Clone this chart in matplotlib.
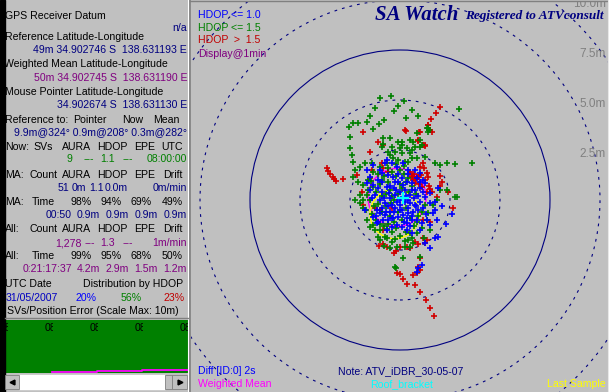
import numpy as np
import matplotlib.pyplot as plt
from matplotlib.patches import Circle, Rectangle
from matplotlib.transforms import Bbox, TransformedBbox

plt.rcParams['font.family'] = ['Liberation Sans', 'DejaVu Sans']

BG = '#c0c0c0'
NAVY = '#000080'
PURPLE = '#800080'
GREEN = '#008000'
BLUE = '#0000ff'
RED = '#d00000'

# ---------------- data ----------------
ring_radii_m = [2.5, 5.0, 7.5, 10.0, 12.5]
ring_labels = ['2.5m', '5.0m', '7.5m', '10.0m', '']

# position fixes (east, north) in metres from the reference point
hdop_good = [(-0.75, 1.83), (-0.42, 1.83), (-0.17, 1.67), (0.17, 1.83), (0.42, 1.5), (0.75, 1.5),
             (1.0, 1.33), (0.83, 1.08), (0.58, 0.83), (0.33, 0.92), (0.08, 1.08), (-0.08, 0.92),
             (-0.33, 1.17), (-0.58, 1.25), (-0.92, 1.33), (-1.08, 1.0), (-1.33, 0.75), (-1.5, 0.5),
             (-1.25, 0.25), (-1.0, 0.0), (-0.75, -0.17), (-0.5, 0.08), (-0.25, 0.25), (0.0, 0.42),
             (0.25, 0.5), (0.5, 0.25), (0.75, 0.5), (1.0, 0.58), (1.17, 0.42), (1.25, 0.17),
             (1.0, -0.08), (0.75, -0.25), (0.5, -0.17), (0.25, -0.08), (0.0, -0.25), (-0.25, -0.42),
             (-0.5, -0.58), (-0.75, -0.75), (-1.0, -0.67), (-1.17, -0.5), (-1.33, -0.83), (-1.08, -1.08),
             (-0.83, -1.0), (-0.58, -1.0), (-0.33, -0.92), (-0.08, -0.83), (0.17, -0.75), (0.42, -0.67),
             (0.67, -0.58), (0.92, -0.5), (1.17, -0.42), (1.5, -0.17), (1.75, -0.5), (1.67, -0.67),
             (1.33, -1.0), (1.08, -1.17), (0.83, -1.0), (0.58, -1.0), (0.33, -1.17), (0.08, -1.33),
             (-0.17, -1.25), (-0.42, -1.33), (-0.67, -1.5), (0.33, -1.5), (0.58, -1.67), (1.0, -1.5),
             (1.5, -1.25), (1.83, -1.0), (1.92, -1.83), (1.75, -1.92), (1.5, -2.42), (1.25, -2.13),
             (-0.25, 0.92), (0.17, 0.75), (-0.67, 0.67), (-0.92, 0.42), (-0.17, -0.08), (-0.42, -0.25),
             (0.42, -0.42), (0.17, 0.17), (-1.0, 1.5), (-1.5, 1.17), (-1.67, 0.83), (-1.75, -0.5),
             (-1.17, -1.17), (1.5, 0.33), (1.75, -0.08), (1.17, 1.0), (1.25, 0.83), (-1.67, 1.5),
             (-1.33, 1.75), (-0.67, 2.0), (1.08, -3.25), (0.92, -3.42), (0.83, -3.58), (0.0, 0.0),
             (0.3, 0.2), (-0.3, 0.6), (0.6, -0.8), (-0.6, -0.3), (0.9, 0.2), (-0.9, -0.4),
             (2.3, -1.2), (2.6, -0.7), (2.1, -0.3), (1.9, 0.6), (-0.5, 0.7), (-0.2, 0.5),
             (0.1, -0.5), (0.4, 0.0), (0.7, 0.1), (-0.8, 0.1), (-1.1, 0.6), (-0.4, -0.9),
             (0.2, -1.1), (0.5, -1.3), (0.8, -0.3), (1.0, 0.9), (-0.1, 1.3), (0.4, 1.3),
             (-0.7, -0.6), (-1.4, 0.1), (-1.2, -0.8), (0.0, -0.5), (0.6, 0.5), (-0.3, -0.6),
             (1.3, -0.7), (-0.9, 0.9), (0.35, -0.9), (-0.55, 0.35)]

hdop_ok = [(-1.0, 5.1), (-0.45, 5.2), (0.2, 4.95), (-1.25, 4.6), (0.6, 4.5), (-0.3, 4.45),
           (0.9, 4.2), (-1.5, 4.2), (-0.8, 4.0), (2.95, 4.55), (1.4, 3.6), (1.45, 3.5),
           (0.1, 2.9), (0.65, 2.9), (0.75, 2.65), (1.0, 2.65), (0.3, 4.1), (-0.1, 4.7),
           (-2.53, 3.67), (-2.33, 3.83), (-2.08, 3.83), (-1.67, 3.92), (-1.03, 3.8), (-2.5, 3.17),
           (-1.33, 3.53), (-0.87, 3.08), (-0.83, 2.8), (-0.92, 2.67), (-0.42, 2.67), (-0.25, 2.42),
           (0.0, 2.58), (0.08, 2.33), (0.33, 2.58), (0.58, 2.5), (0.5, 2.33), (0.58, 2.08),
           (0.25, 1.92), (0.42, 1.92), (-0.08, 2.0), (-0.33, 2.08), (-0.58, 2.42), (-0.5, 2.25),
           (-0.67, 1.83), (-1.0, 1.67), (-1.33, 1.42), (-1.42, 1.83), (-1.75, 1.83), (-2.0, 1.67),
           (-2.25, 1.5), (-2.33, 1.17), (-2.08, 0.92), (-2.5, 2.58), (-2.42, 2.25), (-2.33, 1.92),
           (-2.25, 0.0), (-2.0, -0.17), (-1.83, -0.42), (-1.67, -1.0), (-1.5, -1.33), (-1.25, -1.5),
           (-1.0, -1.5), (-0.75, -1.83), (-1.08, -1.83), (-0.5, -2.42), (-0.17, -2.33), (0.25, -2.33),
           (0.42, -2.0), (0.5, -1.67), (0.83, -1.67), (1.08, -1.42), (1.33, -1.0), (1.42, -0.67),
           (1.67, -0.25), (1.83, 0.0), (2.0, 0.5), (2.33, 0.5), (2.75, 0.17), (2.83, 0.13),
           (2.33, 1.83), (2.0, 1.75), (1.75, 1.83), (2.75, 1.78), (3.58, 1.83), (1.25, 2.17),
           (0.83, 2.08), (1.0, 3.0), (1.08, 2.75), (0.83, 3.33), (1.33, 3.58), (1.42, 3.42),
           (-0.5, 3.08), (-0.08, 2.92), (0.08, 2.75), (0.5, 3.0), (-0.2, -3.42), (-0.25, -3.33),
           (0.17, -2.92), (1.0, -2.83), (0.5, -2.33), (0.67, -2.17), (-1.0, -2.0), (-0.67, -1.92),
           (-1.33, -1.25), (-1.67, 0.25), (-1.83, 0.75), (-1.58, 1.0), (-1.33, 0.67), (-2.0, 0.25),
           (-1.83, 0.0), (-1.2, 0.4), (-1.0, 0.8), (-0.8, 1.2), (-0.6, 0.9), (-0.4, 1.4),
           (-0.2, 1.2), (0.0, 1.5), (0.2, 1.3), (0.4, 1.1), (-1.1, -0.2), (-0.9, -0.6),
           (-0.7, -0.3), (-0.5, -0.8), (-0.3, -1.1), (-0.1, -0.6), (0.1, -1.0), (0.3, -0.4),
           (0.5, -0.9), (0.7, -1.3), (0.9, -0.8), (1.1, -0.6), (-1.3, -0.3), (-1.5, 0.0),
           (-0.7, 0.3), (-0.5, 0.5), (-0.3, 0.0), (-0.1, 0.3), (0.1, 0.6), (0.3, 0.9),
           (0.6, 0.7), (0.8, 0.3), (-0.9, 1.0), (-1.1, 1.3), (-0.6, 1.6), (-0.2, 1.8),
           (0.2, 1.7), (-1.4, -0.7), (-1.2, -1.0), (-0.8, -1.3), (-0.4, -1.6), (0.0, -1.8),
           (0.3, -1.6), (-0.6, -1.2), (-0.9, 0.2), (-0.4, 0.2), (0.0, 0.8), (-1.6, 0.5),
           (-1.7, -0.5), (-0.2, -1.4), (0.6, -1.9), (1.2, -1.9), (1.5, -1.5), (-0.8, -2.3),
           (-0.4, -2.1), (-0.45, -0.15), (0.15, 0.1), (0.45, 0.4), (-0.65, -1.45), (-1.0, -1.2),
           (0.85, -1.1), (1.25, -0.25), (-1.45, 0.95), (-0.25, -1.95), (0.25, -2.05)]

hdop_bad = [(1.42, 3.75), (1.5, 3.5), (1.0, 3.42), (0.92, 2.97), (0.25, 3.5), (-1.83, 3.42),
            (-1.08, 2.92), (-1.5, 2.42), (1.17, 2.75), (1.25, 2.75), (-0.83, 2.75), (2.0, 4.65),
            (1.8, 4.35), (1.55, 4.05), (1.4, 3.75), (1.6, 3.4), (0.95, 3.4), (0.3, 3.45),
            (0.9, 3.0), (1.15, 2.75), (1.25, 2.7), (-3.67, 1.58), (-3.58, 1.47), (-3.5, 1.3),
            (-3.37, 1.17), (-3.3, 1.03), (-3.2, 0.97), (-2.87, 1.03), (0.5, 1.42), (0.7, 1.3),
            (0.58, 1.13), (0.8, 1.03), (0.92, 1.17), (1.03, 1.25), (1.17, 1.87), (1.2, 1.58),
            (1.33, 1.33), (1.42, 1.13), (1.5, 0.53), (1.58, 0.42), (1.37, 0.4), (1.08, 0.67),
            (0.97, 0.8), (0.75, 0.87), (0.67, 1.0), (2.0, 1.2), (2.08, 0.92), (2.0, 0.7),
            (2.42, 0.42), (2.67, -0.42), (1.87, 0.13), (1.17, -1.0), (1.5, -1.08), (1.0, 1.67),
            (0.6, 1.2), (0.85, 1.15), (1.25, 1.0), (1.45, 0.7), (-1.92, 0.42), (-1.83, -0.25),
            (-2.13, 1.25), (-1.5, 1.08), (-1.42, 1.5), (-0.83, 1.58), (-0.92, 1.87), (-0.58, 1.42),
            (-1.25, -0.42), (-1.0, -0.5), (-0.42, -0.42), (-0.83, -1.5), (1.17, -1.92), (1.37, -2.0),
            (1.25, -2.13), (0.92, -2.2), (0.75, -2.08), (0.0, -2.33), (-0.2, -2.53), (-0.3, -2.67),
            (-0.67, -2.33), (-1.03, -2.3), (-0.87, -2.2), (1.0, -2.92), (0.92, -3.33), (1.0, -3.5),
            (0.83, -3.67), (0.63, -3.75), (-0.17, -3.67), (0.0, -3.72), (0.17, -3.97), (0.37, -4.2),
            (0.75, -4.25), (0.5, -2.42), (0.35, -2.35), (1.0, -4.6), (1.3, -5.0), (1.5, -5.4),
            (1.7, -5.8)]

mean_centre, mean_radius = (-0.15, 0.13), 1.45
last_centre, last_radius = (-0.27, -0.70), 1.23
ref_point = (0.13, 0.08)

hdop_share = ['20%', '56%', '23%']
now_vals = ['9', '---', '1.1', '---', '08:00:00']
ma_counts = ['51', '0m', '1.1', '0.0m', '0m/min']
ma_pct = ['98%', '94%', '69%', '49%']
ma_time_vals = ['00:50', '0.9m', '0.9m', '0.9m', '0.9m']
all_counts = ['1,278', '---', '1.3', '---', '1m/min']
all_pct = ['99%', '95%', '68%', '50%']
all_time_vals = ['0:21:17:37', '4.2m', '2.9m', '1.5m', '1.2m']

strip_times = ['08:00', '08:01', '08:02', '08:03', '08:04']
strip_label_min = [-0.13, 0.87, 1.87, 2.87, 3.87]
sv_err_min = [1.04, 2.04, 3.04, 4.07]
sv_err_m = [0.2, 0.38, 0.57, 0.57]

# ---------------- figure ----------------
fig = plt.figure(figsize=(6.09, 3.92), dpi=100)
fig.patch.set_facecolor(BG)

# main plot panel, 20 px per metre, centre at pixel (400, 200)
ax = fig.add_axes([191 / 609, 0, 418 / 609, 390 / 392])
ax.set_facecolor(BG)
ax.set_xlim(-10.45, 10.45)
ax.set_ylim(-9.6, 9.9)
ax.set_xticks([])
ax.set_yticks([])
for s in ax.spines.values():
    s.set_visible(False)

for r, lab in zip(ring_radii_m, ring_labels):
    ls = '-' if r == 7.5 else (0, (2.5, 4.5))
    ax.add_patch(Circle((0, 0), r, fill=False, ec=NAVY, lw=0.8, ls=ls))
    if lab:
        ax.text(10.3, r + 0.1, lab, color='#808080', fontsize=8.5, ha='right', va='top',
                clip_on=True)

for pts, col in [(hdop_bad, RED), (hdop_ok, GREEN), (hdop_good, BLUE)]:
    p = np.array(pts)
    ax.plot(p[:, 0], p[:, 1], '+', color=col, ms=4, mew=1.2, ls='none')

ax.add_patch(Circle(mean_centre, mean_radius, fill=False, ec='#ff00ff', lw=1.1))
ax.add_patch(Circle(last_centre, last_radius, fill=False, ec='#ffff00', lw=1.1))
ax.plot(*ref_point, '+', color='#00ffff', ms=9, mew=1.6)

# SV / position error strip
sax = fig.add_axes([5 / 609, 19 / 392, 183 / 609, 53 / 392])
sax.set_facecolor(GREEN)
sax.set_xlim(0, 183 / 45)
sax.set_ylim(0, 10)
sax.set_xticks([])
sax.set_yticks([])
for s in sax.spines.values():
    s.set_visible(False)
for tm, lab in zip(strip_label_min, strip_times):
    txt = sax.text(tm, 8.5, lab, color='black', fontsize=7.6, ha='left', va='center',
                   clip_on=True)
    txt.set_clip_box(TransformedBbox(Bbox([[max(tm, 0), 0], [tm + 0.19, 10]]), sax.transData))
sax.step(sv_err_min, sv_err_m, where='post', color='#ff00ff', lw=1.3)

# overlay in pixel coordinates for the panel text and chrome
ov = fig.add_axes([0, 0, 1, 1], zorder=5)
ov.set_xlim(0, 609)
ov.set_ylim(392, 0)
ov.axis('off')
ov.patch.set_alpha(0)

ov.add_patch(Rectangle((0, 0), 4.5, 392, color='black'))
ov.plot([188, 188], [0, 392], color='white', lw=0.8)
ov.plot([190, 190], [0, 392], color='#808080', lw=1.2)
ov.plot([190, 609], [1, 1], color='#808080', lw=1.0)
ov.plot([607.5, 607.5], [0, 392], color='#e8e8e8', lw=0.8)
ov.plot([5, 188], [318, 318], color='#808080', lw=1.0)

# scrollbar
ov.add_patch(Rectangle((19, 375), 146, 14, color='white'))
for x0, w in [(5, 14), (165, 7), (172, 15)]:
    ov.add_patch(Rectangle((x0, 375), w, 14, fc=BG, ec='#808080', lw=0.6))
ov.plot(12, 382, marker='<', color='black', ms=3.5)
ov.plot(180, 382, marker='>', color='black', ms=3.5)

FS = 7.6


def t(x, y, s, color='black', ha='left'):
    ov.text(x, y + 4, s, color=color, ha=ha, va='baseline', fontsize=FS)


t(5, 15, 'GPS Receiver Datum')
t(187, 27, 'n/a', NAVY, 'right')
t(5, 36, 'Reference Latitude-Longitude')
t(187, 49, '49m 34.902746 S  138.631193 E', NAVY, 'right')
t(4, 63, 'Weighted Mean Latitude-Longitude')
t(187, 77, '50m 34.902745 S  138.631190 E', PURPLE, 'right')
t(5, 91, 'Mouse Pointer Latitude-Longitude')
t(187, 104, '34.902674 S  138.631130 E', NAVY, 'right')
t(5, 119, 'Reference to:')
for s, x in zip(['Pointer', 'Now', 'Mean'], [107, 143, 180]):
    t(x, 119, s, ha='right')
t(187, 131, '9.9m@324° 0.9m@208° 0.3m@282°', NAVY, 'right')

hdr_x = [53, 91, 128, 155, 183]
cnt_x = [58, 91, 128, 155, 183]
pct_x = [92, 122, 152, 183]
t(5, 146, 'Now:')
for s, x in zip(['SVs', 'AURA', 'HDOP', 'EPE', 'UTC'], hdr_x):
    t(x, 146, s, ha='right')
for s, x in zip(now_vals, [72, 94, 115, 133, 187]):
    t(x, 158, s, GREEN, 'right')
t(5, 174, 'MA:')
for s, x in zip(['Count', 'AURA', 'HDOP', 'EPE', 'Drift'], cnt_x):
    t(x, 174, s, ha='right')
for s, x in zip(ma_counts, [69, 86, 104, 128, 187]):
    t(x, 187, s, NAVY, 'right')
t(5, 201, 'MA:')
t(55, 201, 'Time', ha='right')
for s, x in zip(ma_pct, pct_x):
    t(x, 201, s, ha='right')
for s, x in zip(ma_time_vals, [72, 100, 129, 158, 187]):
    t(x, 214, s, NAVY, 'right')
t(5, 228, 'All:')
for s, x in zip(['Count', 'AURA', 'HDOP', 'EPE', 'Drift'], cnt_x):
    t(x, 228, s, ha='right')
for s, x in zip(all_counts, [82, 95, 115, 133, 187]):
    t(x, 242, s, PURPLE, 'right')
t(5, 255, 'All:')
t(55, 255, 'Time', ha='right')
for s, x in zip(all_pct, pct_x):
    t(x, 255, s, ha='right')
for s, x in zip(all_time_vals, [72, 100, 129, 158, 187]):
    t(x, 268, s, PURPLE, 'right')
t(5, 283, 'UTC Date')
t(183, 283, 'Distribution by HDOP', ha='right')
t(6, 297, '31/05/2007', '#0000c0')
for s, x, c in zip(hdop_share, [97, 142, 185], [BLUE, GREEN, '#c00000']):
    t(x, 297, s, c, 'right')
t(7, 310, 'SVs/Position Error (Scale Max: 10m)')

# plot panel labels
t(198, 14, 'HDOP <= 1.0', BLUE)
t(198, 27, 'HDOP <= 1.5', GREEN)
t(198, 39, 'HDOP  >  1.5', '#c00000')
t(198, 53, 'Display@1min', PURPLE)
ov.text(375, 20, 'SA Watch', color=NAVY, fontsize=15, family='Liberation Serif',
        weight='bold', style='italic', va='baseline')
ov.text(465, 19, 'Registered to ATVconsult', color=NAVY, fontsize=9.5,
        family='Liberation Serif', weight='bold', style='italic', va='baseline')
t(198, 370, 'Diff [ID:0] 2s', BLUE)
t(198, 383, 'Weighted Mean', '#ff00ff')
t(338, 370, 'Note: ATV_iDBR_30-05-07', NAVY)
t(370, 383, 'Roof_bracket', '#00ffff')
t(606, 383, 'Last Sample', '#ffff00', 'right')

fig.savefig('out.png', dpi=100, facecolor=BG)
